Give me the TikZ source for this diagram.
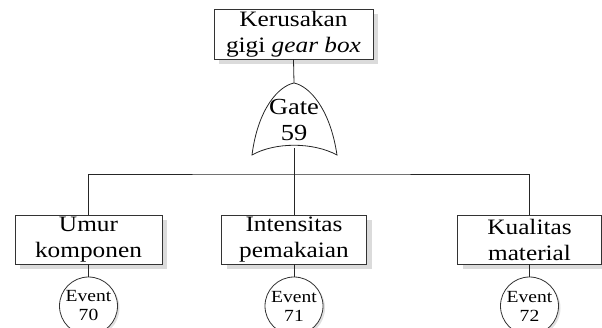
\documentclass[tikz,border=0pt]{standalone}
\usepackage{fontspec}
\setmainfont{Liberation Serif}[FakeStretch=1.15]
\usepackage{tikz}
\usetikzlibrary{shadows}
\tikzset{%
  boxA/.style={draw=black!80, line width=0.8pt, fill=white, rectangle, align=center,
    inner sep=0pt, font=\fontsize{22}{26}\selectfont,
    drop shadow={shadow xshift=5pt, shadow yshift=-5pt, fill=black!14, opacity=1}},
  evtA/.style={draw=black!80, line width=0.8pt, fill=white, circle, minimum size=58pt,
    inner sep=0pt, align=center, font=\fontsize{17}{19}\selectfont,
    drop shadow={shadow xshift=2pt, shadow yshift=-2pt, fill=black!12, opacity=1}},
  wireA/.style={draw=black!85, line width=0.8pt}
}

\begin{document}
\begin{tikzpicture}[x=1pt,y=-1pt]
\useasboundingbox (0,0) rectangle (602,327);
\node[boxA, minimum width=159pt, minimum height=50pt] (top) at (293.5,34) {Kerusakan\\gigi \textit{gear box}};
\coordinate (gtop) at (294,83);
\coordinate (gbot) at (294,148);
\draw[wireA] (252,155) .. controls (258,108) and (279,86) .. (gtop)
  .. controls (309,86) and (330,108) .. (337,155)
  .. controls (313,142) and (275,142) .. (252,155) -- cycle;
\node[align=center, font=\fontsize{23}{26}\selectfont, inner sep=0pt] (gate) at (294,120) {Gate\\59};
\coordinate (bus) at (294,174);
\node[boxA, minimum width=147pt, minimum height=49pt] (b1) at (88.5,239.5) {Umur\\komponen};
\node[boxA, minimum width=145pt, minimum height=49pt] (b2) at (294,239.5) {Intensitas\\pemakaian};
\node[boxA, minimum width=144pt, minimum height=49pt] (b3) at (529.5,239.5) {Kualitas\\material};
\node[evtA] (e1) at (88.5,306) {Event\\70};
\node[evtA] (e2) at (294,306) {Event\\71};
\node[evtA] (e3) at (529.5,306) {Event\\72};
\draw[wireA] (top.south) -- (gtop);
\draw[wireA] (gbot) -- (bus);
\draw[wireA] (b1.north) |- (bus) -| (b3.north);
\draw[wireA] (bus) -- (b2.north);
\draw[wireA] (b1.south) -- (e1.north);
\draw[wireA] (b2.south) -- (e2.north);
\draw[wireA] (b3.south) -- (e3.north);
\end{tikzpicture}
\end{document}
